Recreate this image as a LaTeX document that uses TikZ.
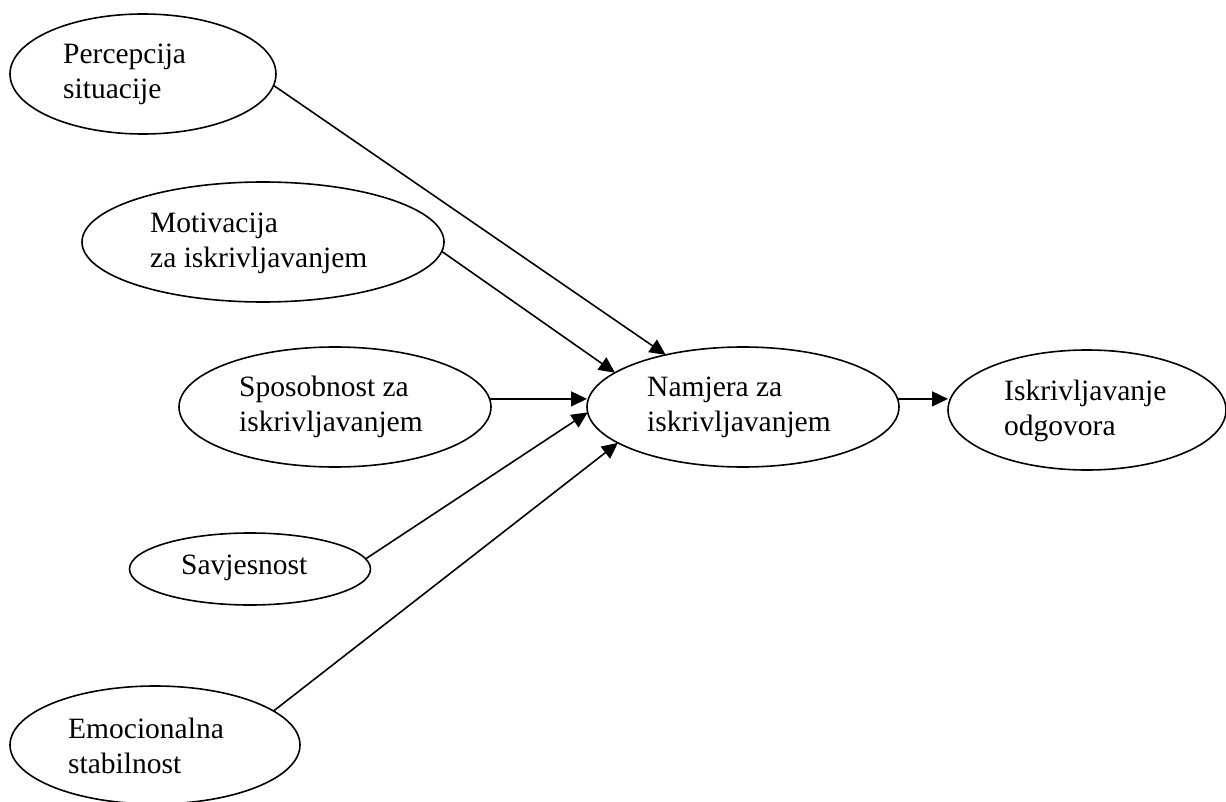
\documentclass[tikz,border=0pt]{standalone}
\usepackage{fontspec}
\setmainfont{Liberation Serif}
\usetikzlibrary{shapes.geometric,arrows.meta}
\begin{document}
\begin{tikzpicture}[x=1pt,y=-1pt,
  oval/.style={ellipse,draw,line width=1.6pt,inner sep=0pt,outer sep=0pt},
  lbl/.style={anchor=west,align=left,inner sep=0pt,font=\fontsize{29.5}{35}\selectfont},
  conn/.style={line width=1.6pt,-{Triangle[length=16pt,width=15pt]}}]
\useasboundingbox (0,0) rectangle (1226,802);
% ellipses
\node[oval,minimum width=266pt,minimum height=120pt] (p) at (143,74) {};
\node[oval,minimum width=362pt,minimum height=120pt] (m) at (263,242) {};
\node[oval,minimum width=312pt,minimum height=120pt] (s) at (335,407) {};
\node[oval,minimum width=241pt,minimum height=72pt] (v) at (250,569) {};
\node[oval,minimum width=290pt,minimum height=118pt] (e) at (155,745) {};
\node[oval,minimum width=312pt,minimum height=120pt] (n) at (743,407) {};
\node[oval,minimum width=278pt,minimum height=120pt] (i) at (1087,410) {};
% labels
\node[lbl] (pt) at (63,74.5) {Percepcija\\situacije};
\node[lbl] (mt) at (150,243.5) {Motivacija\\za iskrivljavanjem};
\node[lbl] (st) at (239,406.5) {Sposobnost za\\iskrivljavanjem};
\node[lbl] (vt) at (181,568) {Savjesnost};
\node[lbl] (et) at (68,745.5) {Emocionalna\\stabilnost};
\node[lbl] (nt) at (647,407.5) {Namjera za\\iskrivljavanjem};
\node[lbl] (it) at (1004,410.5) {Iskrivljavanje\\odgovora};
% connectors
\draw[conn] (p.-5.2) -- (n.146.2);
\draw[conn] (m.-3.5) -- (n.165.7);
\draw[conn] (s.3.7) -- (s.3.7 -| n.west);
\draw[conn] (v.5.7) -- (n.182.9);
\draw[conn] (e.16.3) -- (n.196.3);
\draw[conn] (n.3.3) -- (n.3.3 -| i.west);
\end{tikzpicture}
\end{document}
